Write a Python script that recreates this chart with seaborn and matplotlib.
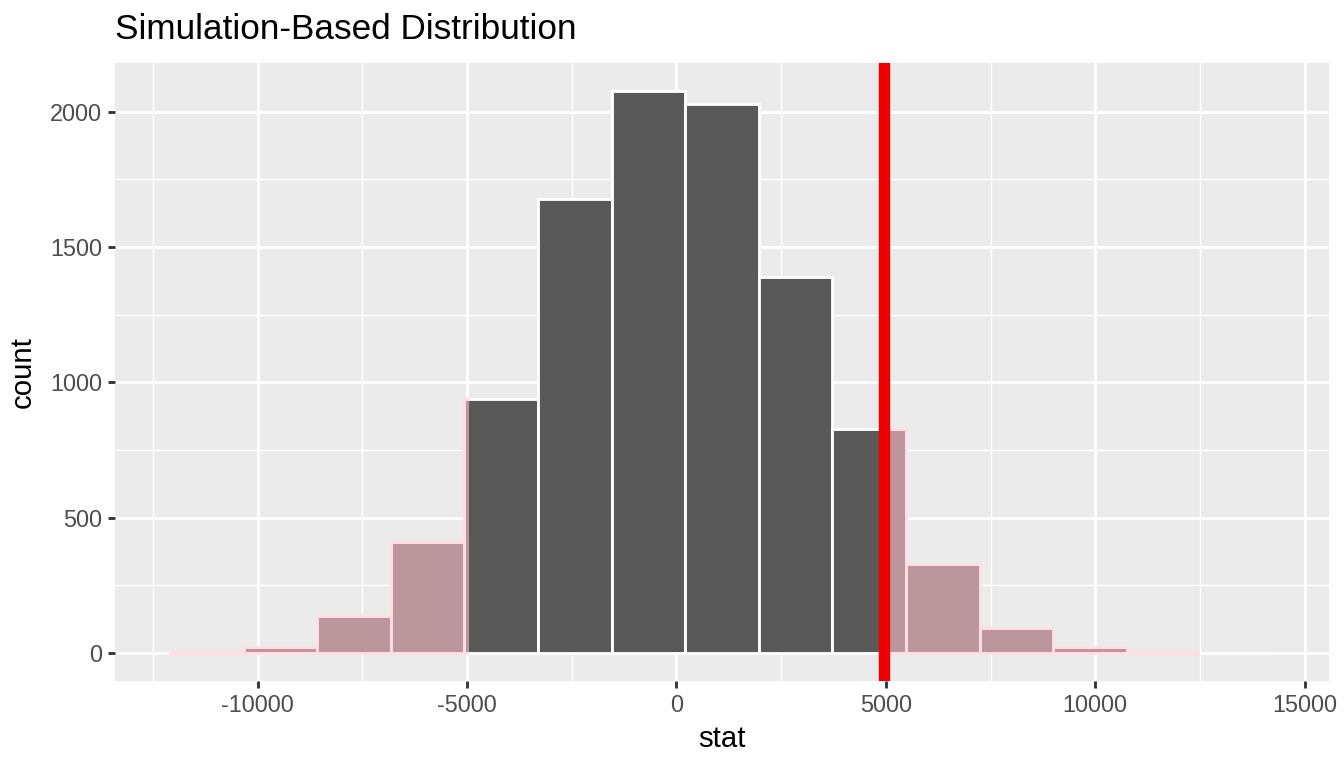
import matplotlib
matplotlib.use("Agg")
import matplotlib.pyplot as plt
from matplotlib.patches import Rectangle
import seaborn as sns

# histogram: bin edges and counts per bin
bin_edges = [-12090, -10333, -8576, -6819, -5062, -3305, -1548, 209,
             1966, 3723, 5480, 7237, 8994, 10751, 12508, 14265]
counts = [2, 20, 138, 409, 937, 1678, 2076, 2028, 1389, 827, 329, 91, 20, 3, 1]
obs_stat = 4950

x_ticks = [-10000, -5000, 0, 5000, 10000, 15000]
x_minor = [-12500, -7500, -2500, 2500, 7500, 12500]
y_ticks = [0, 500, 1000, 1500, 2000]
y_minor = [250, 750, 1250, 1750]

sns.set_theme(style="darkgrid", rc={"axes.facecolor": "#EBEBEB",
                                    "grid.color": "white",
                                    "axes.unicode_minus": False})
plt.rcParams['font.family'] = ['Liberation Sans', 'DejaVu Sans']

fig = plt.figure(figsize=(7, 4), dpi=192)
ax = fig.add_axes([115/1344, 87/768, (1329-115)/1344, (681-63)/768])

centers = [(a + b) / 2 for a, b in zip(bin_edges[:-1], bin_edges[1:])]
sns.histplot(x=centers, weights=counts, bins=bin_edges, color='#595959',
             edgecolor='white', linewidth=1.07, alpha=1, ax=ax)

# axis limits with ggplot-like 5% expansion
xpad = 0.05 * (bin_edges[-1] - bin_edges[0])
x_lo, x_hi = bin_edges[0] - xpad, bin_edges[-1] + xpad
ypad = 0.05 * max(counts)

# shade the two tails in pink, clipped to the p-value regions
for x0, x1 in [(x_lo, -obs_stat), (obs_stat, bin_edges[-2])]:
    n_before = len(ax.patches)
    sns.histplot(x=centers, weights=counts, bins=bin_edges, color='pink',
                 edgecolor='#FFDDE3', linewidth=1.07, alpha=0.6, ax=ax)
    clip = Rectangle((x0, -ypad * 2), x1 - x0, max(counts) * 2, transform=ax.transData)
    for p in ax.patches[n_before:]:
        p.set_clip_path(clip)
        p.set_edgecolor('#FFDDE3')

ax.axvline(obs_stat, color='#EE0000', linewidth=4.27)

ax.set_xlim(x_lo, x_hi)
ax.set_ylim(-ypad, max(counts) + ypad)
ax.set_xticks(x_ticks)
ax.set_xticks(x_minor, minor=True)
ax.set_yticks(y_ticks)
ax.set_yticks(y_minor, minor=True)
ax.set_xticklabels([str(t) for t in x_ticks])
ax.set_yticklabels([str(t) for t in y_ticks])
ax.grid(which='major', color='white', linewidth=1.07)
ax.grid(which='minor', color='white', linewidth=0.53)
ax.set_axisbelow(True)
for s in ax.spines.values():
    s.set_visible(False)
ax.tick_params(which='major', length=2.75, width=1.07, color='#333333',
               labelcolor='#4D4D4D', labelsize=8.8, pad=2.2,
               bottom=True, left=True)
ax.tick_params(which='minor', length=0)

ax.set_xlabel('stat', fontsize=11, color='black', labelpad=3)
ax.set_ylabel('count', fontsize=11, color='black', labelpad=5)
ax.set_title('Simulation-Based Distribution', loc='left', fontsize=13.2,
             color='black', pad=9)

fig.savefig('out.png', dpi=192)
